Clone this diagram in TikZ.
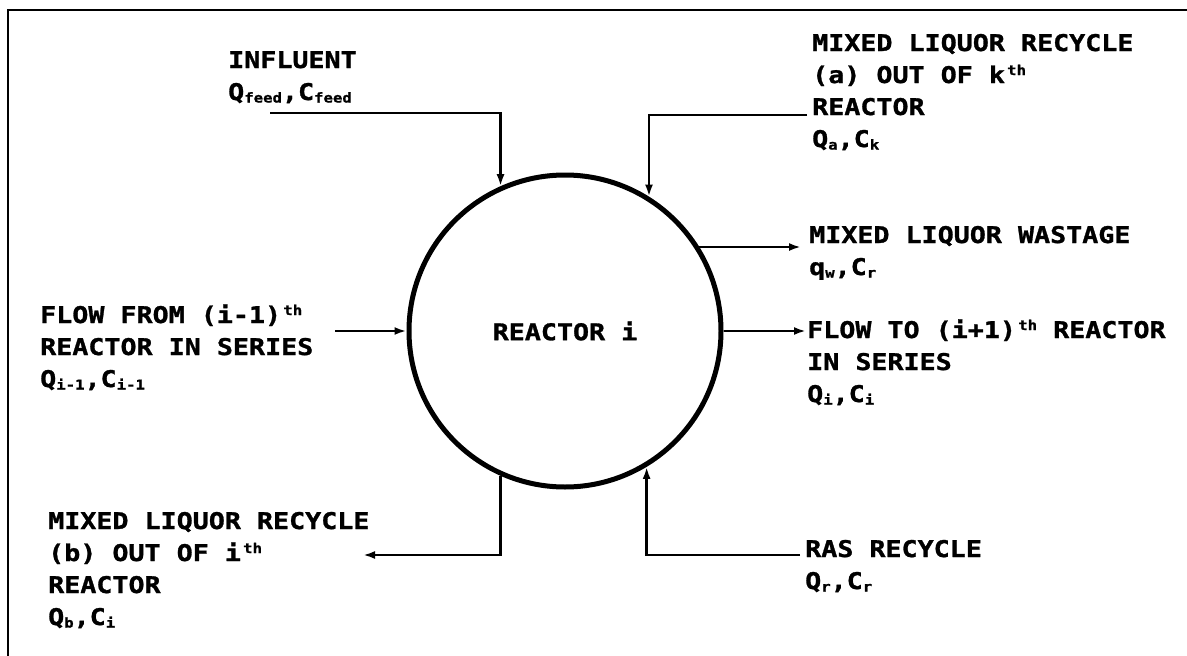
\documentclass[tikz,border=0pt]{standalone}
\usepackage{fontspec}
\usetikzlibrary{arrows.meta}
\newfontfamily\lpfont[FakeStretch=1.16,FakeBold=1.2]{DejaVu Sans Mono Bold}
\newcommand\lsb[1]{\raisebox{-2.5pt}{\fontsize{13.5}{13.5}\selectfont #1}}
\newcommand\lsp[1]{\raisebox{8pt}{\fontsize{13.5}{13.5}\selectfont\,#1}}
\tikzset{
  lbl/.style={font=\lpfont\fontsize{23}{32}\selectfont, align=left, inner sep=0pt, anchor=base west},
  conn/.style={line width=2.4pt, black},
  arr/.style={conn, -{Latex[length=12pt,width=8pt]}},
  frame/.style={line width=2pt, black},
  reactor/.style={circle, draw, line width=5pt, minimum size=312pt, inner sep=0pt,
    font=\lpfont\fontsize{23}{32}\selectfont}
}
\begin{document}
\begin{tikzpicture}[x=1pt,y=-1pt]
\useasboundingbox (0,0) rectangle (1187,656);
\fill[white] (0,0) rectangle (1187,656);
% frame (top and left edges)
\coordinate (fTR) at (1187,10);
\coordinate (fTL) at (8,10);
\coordinate (fBL) at (8,656);
\draw[frame] (fTR) -- (fTL) -- (fBL);
% reactor
\node[reactor] (c) at (565,331) {REACTOR i};
% labels (positioned by the baseline of their last line)
\node[lbl] (infl) at (228,100) {INFLUENT\\Q\lsb{feed},C\lsb{feed}};
\node[lbl] (mla) at (812,147) {MIXED LIQUOR RECYCLE\\(a) OUT OF k\lsp{th}\\REACTOR\\Q\lsb{a},C\lsb{k}};
\node[lbl] (mlw) at (809,275) {MIXED LIQUOR WASTAGE\\q\lsb{w},C\lsb{r}};
\node[lbl] (fto) at (807,402) {FLOW TO (i+1)\lsp{th} REACTOR\\IN SERIES\\Q\lsb{i},C\lsb{i}};
\node[lbl] (ffrom) at (40,387) {FLOW FROM (i-1)\lsp{th}\\REACTOR IN SERIES\\Q\lsb{i-1},C\lsb{i-1}};
\node[lbl] (mlb) at (48,625) {MIXED LIQUOR RECYCLE\\(b) OUT OF i\lsp{th}\\REACTOR\\Q\lsb{b},C\lsb{i}};
\node[lbl] (ras) at (805,589) {RAS RECYCLE\\Q\lsb{r},C\lsb{r}};
% connector end points
\coordinate (inS) at (270,113);
\coordinate (raS) at (807,115);
\coordinate (wT) at (801,247);
\coordinate (ftT) at (806,331);
\coordinate (ffS) at (335,331);
\coordinate (rbT) at (363,555);
\coordinate (rasS) at (800,555);
% connectors
\draw[arr] (inS) -| (c.114.2);
\draw[arr] (raS) -| (c.58.4);
\draw[arr] (c.32) -- (c.32 -| wT);
\draw[arr] (c.east) -- (ftT);
\draw[arr] (ffS) -- (c.west);
\draw[arr] (c.246.2) |- (rbT);
\draw[arr] (rasS) -| (c.301.2);
\end{tikzpicture}
\end{document}
